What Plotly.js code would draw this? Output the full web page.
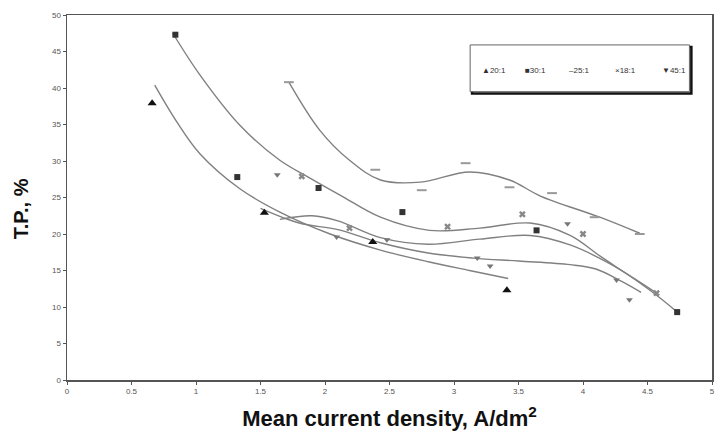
<!DOCTYPE html>
<html>
<head>
<meta charset="utf-8">
<script src="https://cdn.plot.ly/plotly-3.0.1.min.js"></script>
<style>html,body{margin:0;padding:0;background:#fff;}#chart{width:718px;height:436px;}</style>
</head>
<body>
<div id="chart"></div>
<script>
// Series names (legend)
const seriesNames = ["20:1", "30:1", "25:1", "18:1", "45:1"];

// Measured points
const s1x = [0.66, 1.53, 2.37, 3.41];
const s1y = [37.9, 22.9, 18.9, 12.3];
const s2x = [0.84, 1.32, 1.95, 2.60, 3.64, 4.73];
const s2y = [47.3, 27.8, 26.3, 23.0, 20.5, 9.3];
const s3x = [1.72, 2.39, 2.75, 3.09, 3.43, 3.76, 4.09, 4.44];
const s3y = [40.8, 28.8, 26.0, 29.7, 26.4, 25.6, 22.3, 20.0];
const s4x = [1.82, 2.19, 2.95, 3.53, 4.00, 4.57];
const s4y = [27.9, 20.8, 21.0, 22.7, 20.0, 11.9];
const s5x = [1.63, 2.09, 2.48, 3.18, 3.28, 3.88, 4.26, 4.36];
const s5y = [28.1, 19.6, 19.2, 16.7, 15.6, 21.4, 13.7, 11.0];

// Trend lines
const t1x = [0.68, 0.85, 1.03, 1.34, 1.65, 2.04, 2.43, 2.80, 3.12, 3.42];
const t1y = [40.4, 35.4, 31.0, 26.2, 23.0, 20.0, 17.8, 16.2, 15.0, 13.9];
const t2x = [0.82, 1.03, 1.34, 1.65, 1.88, 2.12, 2.43, 2.81, 3.20, 3.59, 3.90, 4.13, 4.40, 4.60, 4.73];
const t2y = [47.5, 41.8, 34.9, 30.1, 27.7, 25.3, 22.3, 20.5, 20.8, 21.5, 19.8, 17.0, 13.8, 11.2, 9.3];
const t3x = [1.72, 1.96, 2.19, 2.43, 2.74, 3.12, 3.43, 3.67, 4.13, 4.44];
const t3y = [40.8, 34.2, 30.1, 27.4, 27.1, 28.5, 27.4, 25.2, 22.3, 20.1];
const t4x = [1.65, 1.90, 2.10, 2.43, 2.80, 3.20, 3.59, 3.90, 4.20, 4.57];
const t4y = [22.0, 22.5, 21.8, 19.5, 18.6, 19.3, 19.8, 18.5, 16.0, 11.9];
const t5x = [1.50, 1.80, 2.10, 2.43, 2.80, 3.15, 3.50, 3.90, 4.10, 4.30, 4.45];
const t5y = [23.5, 21.5, 20.6, 18.8, 17.4, 16.7, 16.3, 15.8, 15.2, 13.5, 12.0];

const xTicks = [0, 0.5, 1, 1.5, 2, 2.5, 3, 3.5, 4, 4.5, 5];
const yTicks = [0, 5, 10, 15, 20, 25, 30, 35, 40, 45, 50];

const FONT = 'Liberation Sans, Arial, sans-serif';
const lineStyle = {color: '#808080', width: 1.4, shape: 'spline', smoothing: 1};
const markerDefs = [
  {symbol: 'triangle-up', color: '#111', size: 8},
  {symbol: 'square', color: '#333', size: 6},
  {symbol: 'line-ew', color: '#999', size: 7, line: {color: '#999', width: 2}},
  {symbol: 'x', color: '#888', size: 6},
  {symbol: 'triangle-down', color: '#777', size: 6}
];
const pts = [[s1x, s1y], [s2x, s2y], [s3x, s3y], [s4x, s4y], [s5x, s5y]];
const trends = [[t1x, t1y], [t2x, t2y], [t3x, t3y], [t4x, t4y], [t5x, t5y]];

const data = [];
trends.forEach((t) => data.push({x: t[0], y: t[1], mode: 'lines', line: lineStyle, showlegend: false, hoverinfo: 'skip'}));
pts.forEach((p, i) => data.push({x: p[0], y: p[1], mode: 'markers', name: seriesNames[i], marker: markerDefs[i], showlegend: false}));

// Custom legend built from the names
const legendGlyphs = ['▲', '■', '–', '×', '▼'];
const legendX = [0.64, 0.707, 0.775, 0.846, 0.919];
const annotations = seriesNames.map((n, i) => ({
  xref: 'paper', yref: 'paper', x: legendX[i], y: 0.848, xanchor: 'left', yanchor: 'middle',
  text: legendGlyphs[i] + n,
  showarrow: false, font: {family: FONT, size: 8, color: '#333'}
}));
annotations.push({
  xref: 'paper', yref: 'paper', x: -0.07, y: 0.47, xanchor: 'center', yanchor: 'middle',
  text: 'T.P., %', textangle: -90, showarrow: false,
  font: {family: FONT, size: 20, color: '#111', weight: 'bold'}
});

const layout = {
  width: 718, height: 436,
  margin: {l: 67, r: 6, t: 15, b: 56},
  paper_bgcolor: '#fff', plot_bgcolor: '#fff',
  showlegend: false,
  font: {family: FONT, color: '#333'},
  xaxis: {
    range: [0, 5], tickvals: xTicks, ticktext: xTicks.map(String),
    showgrid: false, zeroline: false, showline: true, linecolor: '#555', linewidth: 1.5, mirror: true,
    ticks: 'outside', ticklen: 3, tickcolor: '#555', tickfont: {size: 8, color: '#555'},
    title: {text: 'Mean current density, A/dm<sup>2</sup>', font: {size: 22, color: '#111', family: FONT, weight: 'bold'}, standoff: 15}
  },
  yaxis: {
    range: [0, 50], tickvals: yTicks, ticktext: yTicks.map(String),
    showgrid: false, zeroline: false, showline: true, linecolor: '#555', linewidth: 1.5, mirror: true,
    ticks: 'outside', ticklen: 3, tickcolor: '#555', tickfont: {size: 8, color: '#555'}
  },
  shapes: [
    {type: 'rect', xref: 'paper', yref: 'paper', x0: 0.628, x1: 0.968, y0: 0.785, y1: 0.912, line: {color: '#111', width: 2.5}, fillcolor: 'rgba(0,0,0,0)'},
    {type: 'rect', xref: 'paper', yref: 'paper', x0: 0.625, x1: 0.965, y0: 0.79, y1: 0.918, line: {color: '#666', width: 1}, fillcolor: '#fff'}
  ],
  annotations: annotations
};

Plotly.newPlot('chart', data, layout, {displayModeBar: false, staticPlot: true});
</script>
</body>
</html>
